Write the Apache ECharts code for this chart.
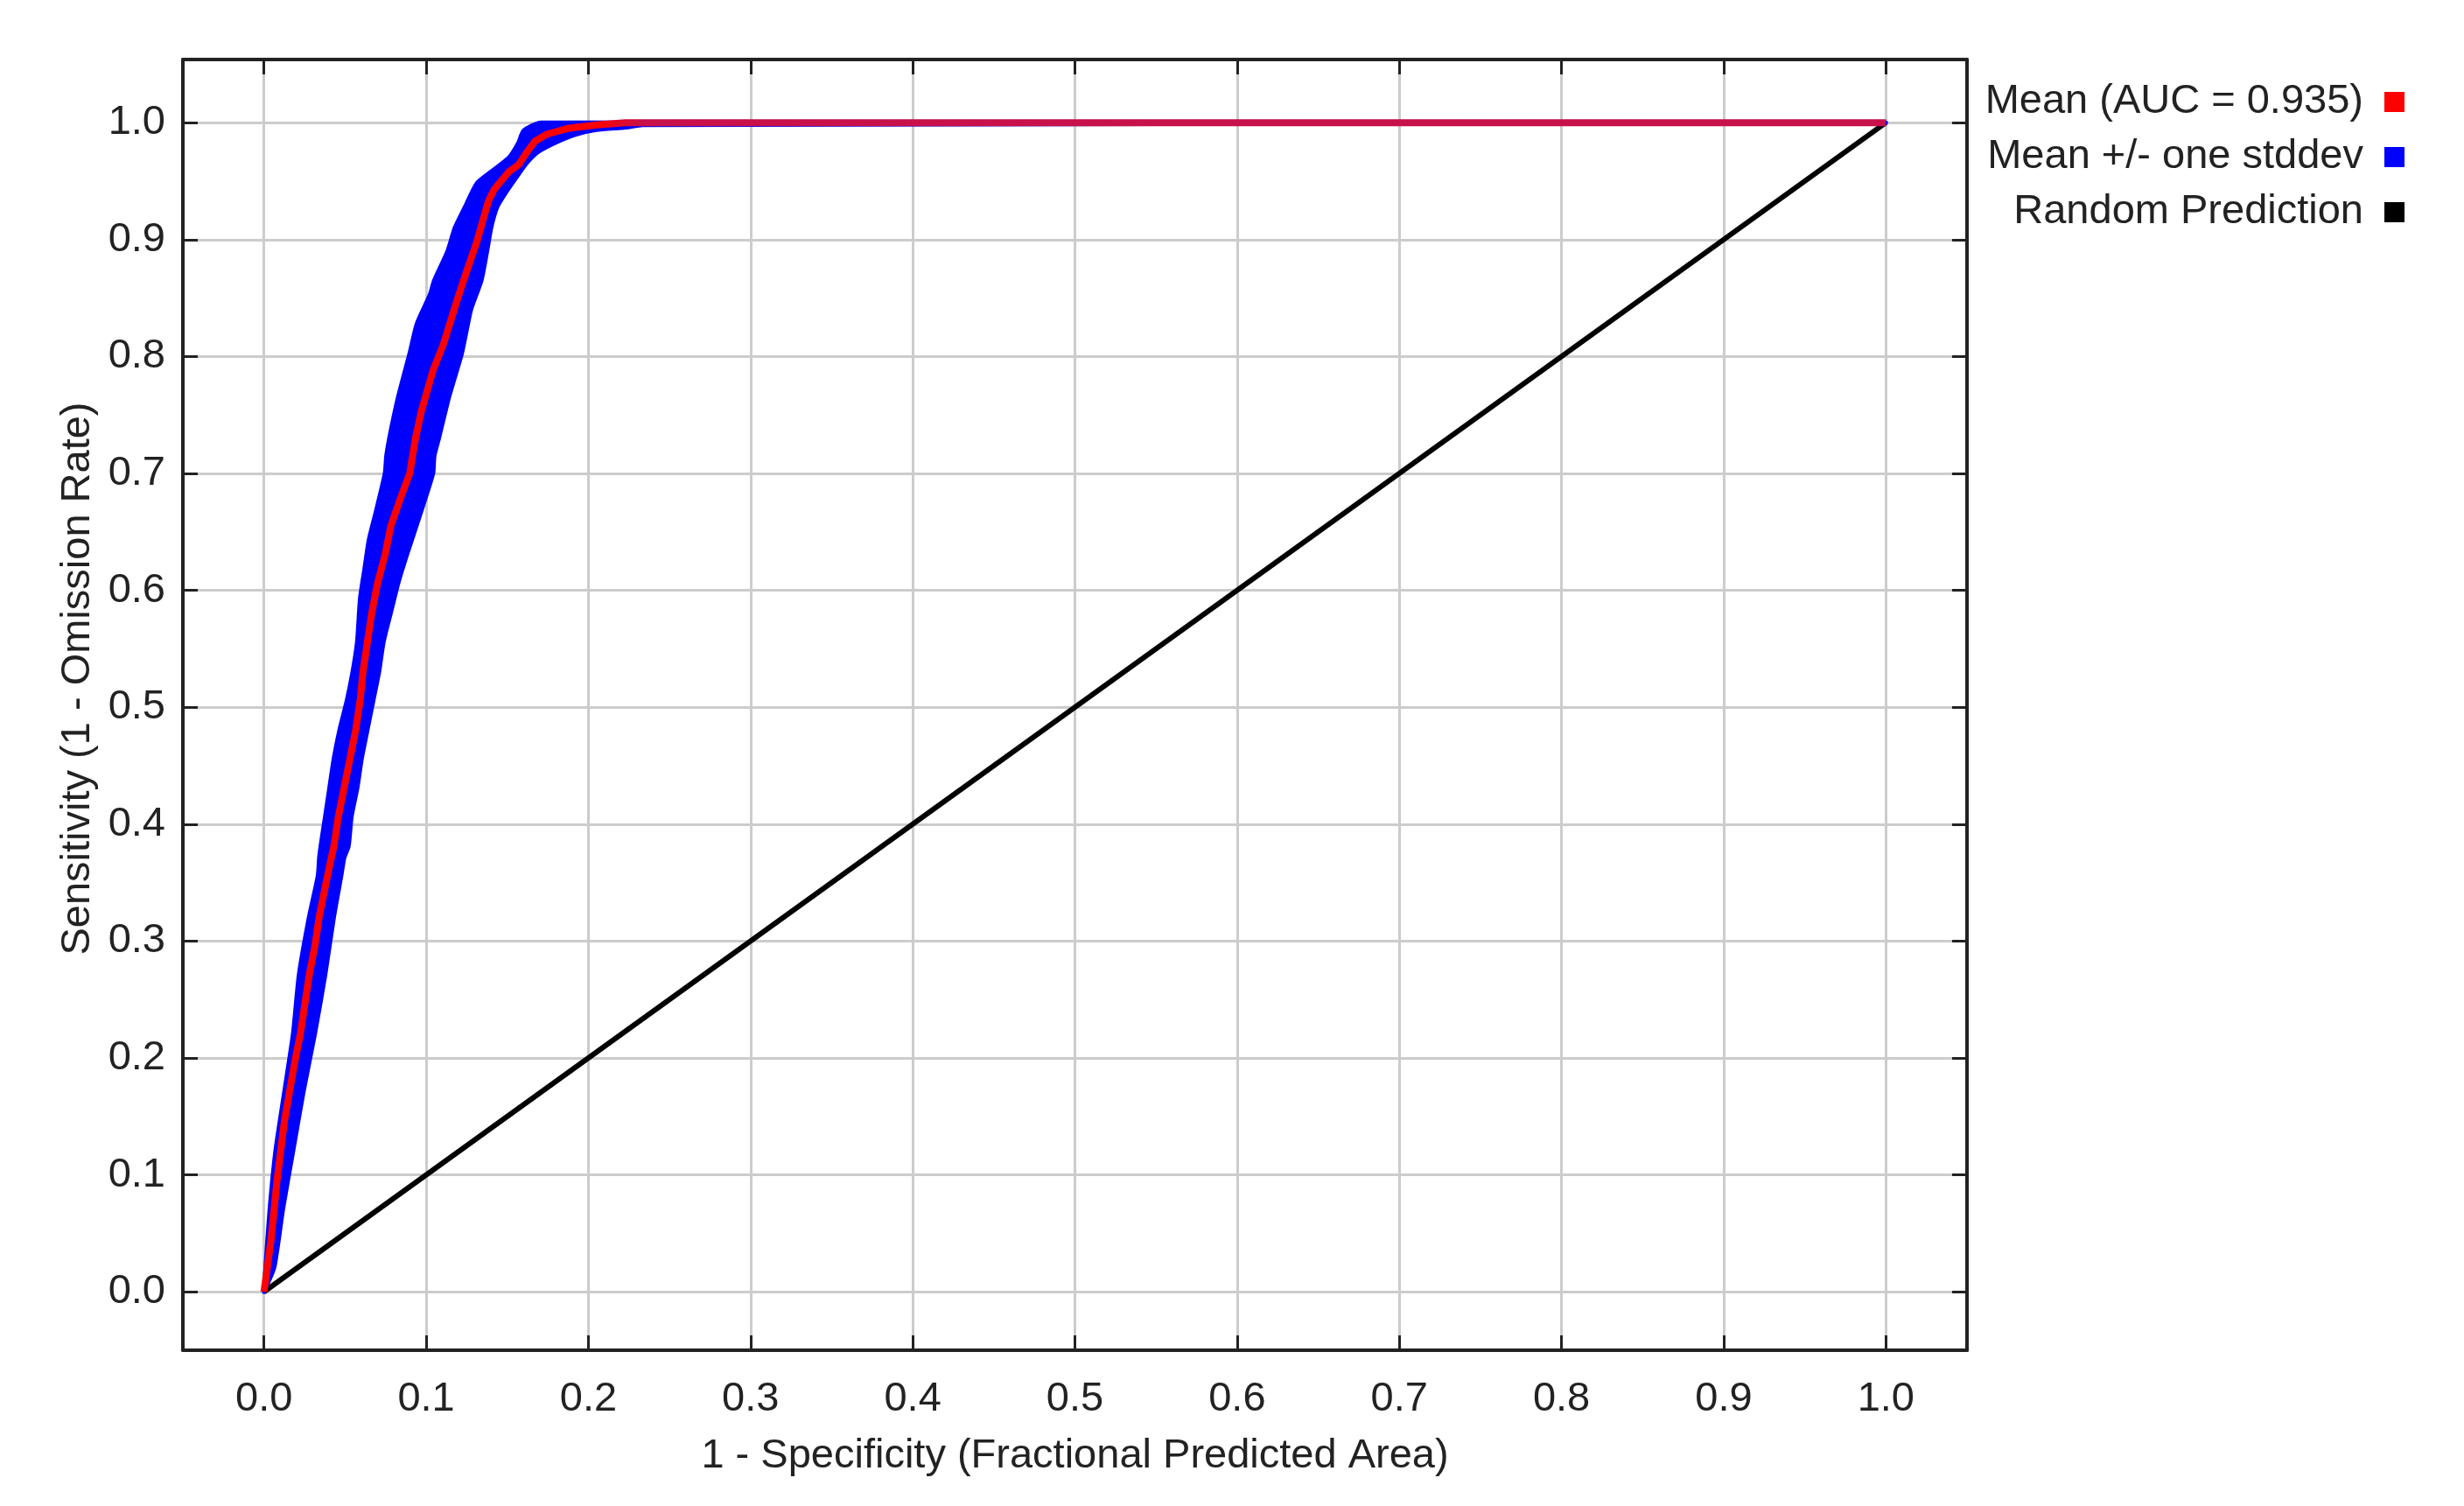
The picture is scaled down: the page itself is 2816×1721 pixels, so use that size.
<!DOCTYPE html>
<html>
<head>
<meta charset="utf-8">
<title>ROC curve</title>
<script src="https://cdn.jsdelivr.net/npm/echarts@6/dist/echarts.min.js"></script>
<style>
  html, body { margin: 0; padding: 0; background: #fff; }
  #chart { width: 2816px; height: 1721px; }
</style>
</head>
<body>
<div id="chart"></div>
<script>
// tick positions shared by both axes
const tickValues = [0, 0.1, 0.2, 0.3, 0.4, 0.5, 0.6, 0.7, 0.8, 0.9, 1.0];

// mean ROC curve (1 - specificity, sensitivity)
const meanFpr = [0, 0.0045, 0.0081, 0.0126, 0.0189, 0.0225, 0.0252, 0.0279, 0.0314, 0.0341, 0.0377, 0.041, 0.0431, 0.0458, 0.0494, 0.053, 0.0566, 0.0593, 0.0611, 0.0638, 0.0665, 0.07, 0.0746, 0.0782, 0.0845, 0.0899, 0.0916, 0.0934, 0.097, 0.1042, 0.1105, 0.115, 0.1195, 0.125, 0.1312, 0.1357, 0.1384, 0.142, 0.151, 0.157, 0.1617, 0.167, 0.1743, 0.187, 0.205, 0.223, 1.0];
const meanTpr = [0, 0.046, 0.096, 0.146, 0.196, 0.221, 0.246, 0.271, 0.296, 0.321, 0.346, 0.368, 0.381, 0.406, 0.431, 0.456, 0.481, 0.506, 0.531, 0.556, 0.581, 0.606, 0.63, 0.655, 0.68, 0.7, 0.715, 0.73, 0.753, 0.788, 0.81, 0.83, 0.85, 0.873, 0.898, 0.92, 0.933, 0.943, 0.958, 0.964, 0.974, 0.984, 0.99, 0.995, 0.998, 1.0, 1.0];

// mean + one stddev (left edge of the band)
const upperFpr = [0, 0.001, 0.0036, 0.0072, 0.0126, 0.018, 0.0216, 0.0279, 0.0333, 0.0341, 0.035, 0.0377, 0.0404, 0.0431, 0.0467, 0.0512, 0.0548, 0.0575, 0.0593, 0.062, 0.0647, 0.0692, 0.0746, 0.0755, 0.0773, 0.0827, 0.0899, 0.0943, 0.1024, 0.105, 0.1132, 0.1177, 0.124, 0.1312, 0.14, 0.151, 0.157, 0.16, 0.1707, 1.0];
const upperTpr = [0, 0.021, 0.071, 0.121, 0.171, 0.221, 0.271, 0.321, 0.356, 0.371, 0.381, 0.406, 0.431, 0.456, 0.481, 0.506, 0.531, 0.556, 0.593, 0.618, 0.643, 0.668, 0.7, 0.715, 0.73, 0.765, 0.803, 0.828, 0.853, 0.865, 0.89, 0.91, 0.928, 0.948, 0.958, 0.97, 0.983, 0.993, 1.0, 1.0];

// mean - one stddev (right edge of the band)
const lowerFpr = [0, 0.0063, 0.0117, 0.018, 0.0243, 0.0314, 0.0377, 0.0431, 0.0476, 0.0494, 0.0521, 0.0539, 0.0575, 0.0602, 0.0638, 0.0674, 0.071, 0.0737, 0.0782, 0.0827, 0.088, 0.097, 0.1042, 0.105, 0.1078, 0.114, 0.122, 0.1276, 0.134, 0.1375, 0.14, 0.1438, 0.149, 0.1555, 0.1617, 0.169, 0.1797, 0.1923, 0.205, 0.223, 0.2335, 1.0];
const lowerTpr = [0, 0.021, 0.071, 0.121, 0.171, 0.221, 0.271, 0.321, 0.356, 0.371, 0.381, 0.406, 0.431, 0.456, 0.481, 0.506, 0.531, 0.556, 0.581, 0.606, 0.63, 0.668, 0.7, 0.715, 0.73, 0.765, 0.803, 0.84, 0.865, 0.89, 0.91, 0.928, 0.94, 0.953, 0.965, 0.975, 0.983, 0.99, 0.994, 0.996, 0.998, 1.0];

// random prediction diagonal
const randomFpr = [0, 1];
const randomTpr = [0, 1];

const FONT = "'Liberation Sans', Arial, sans-serif";
const INK = '#222222';

const chart = echarts.init(document.getElementById('chart'));

const tickStyle = {
  show: true,
  inside: true,
  length: 17,
  lineStyle: { color: INK, width: 3 },
  customValues: tickValues,
};

function xAxis(position, main) {
  return {
    type: 'value',
    position: position,
    min: -0.05,
    max: 1.05,
    name: main ? '1 - Specificity (Fractional Predicted Area)' : '',
    nameLocation: 'middle',
    nameGap: 98,
    nameTextStyle: { fontFamily: FONT, fontSize: 47, color: INK },
    axisLine: { show: true, onZero: false, lineStyle: { color: INK, width: 4 } },
    axisTick: tickStyle,
    axisLabel: {
      show: main,
      margin: 33,
      fontFamily: FONT,
      fontSize: 47,
      color: INK,
      customValues: tickValues,
      formatter: (v) => v.toFixed(1),
    },
    splitLine: { show: main, lineStyle: { color: '#cccccc', width: 3 } },
  };
}

function yAxis(position, main) {
  return {
    type: 'value',
    position: position,
    min: -0.05,
    max: 1.054,
    name: main ? 'Sensitivity (1 - Omission Rate)' : '',
    nameLocation: 'middle',
    nameGap: 86,
    nameTextStyle: { fontFamily: FONT, fontSize: 47, color: INK, padding: [0, 0, 0, 60] },
    axisLine: { show: true, onZero: false, lineStyle: { color: INK, width: 4 } },
    axisTick: tickStyle,
    axisLabel: {
      show: main,
      margin: 20,
      fontFamily: FONT,
      fontSize: 47,
      color: INK,
      customValues: tickValues,
      formatter: (v) => v.toFixed(1),
    },
    splitLine: { show: main, lineStyle: { color: '#cccccc', width: 3 } },
  };
}

const option = {
  backgroundColor: '#ffffff',
  animation: false,
  grid: { left: 209, right: 568, top: 68, bottom: 178 },
  legend: {
    orient: 'vertical',
    right: 63,
    top: 88,
    align: 'right',
    itemWidth: 23,
    itemHeight: 23,
    itemGap: 16,
    icon: 'rect',
    itemStyle: { borderWidth: 0 },
    textStyle: { fontFamily: FONT, fontSize: 47, color: INK, padding: [0, 19, 0, 0] },
    data: ['Mean (AUC = 0.935)', 'Mean +/- one stddev', 'Random Prediction'],
  },
  xAxis: [xAxis('bottom', true), xAxis('top', false)],
  yAxis: [yAxis('left', true), yAxis('right', false)],
  series: [
    {
      name: 'Random Prediction',
      type: 'line',
      showSymbol: false,
      itemStyle: { color: '#000000' },
      lineStyle: { color: '#000000', width: 6 },
      data: randomFpr.map((x, i) => [x, randomTpr[i]]),
      z: 2,
    },
    {
      name: 'Mean +/- one stddev',
      type: 'custom',
      itemStyle: { color: '#0000ff' },
      data: [[0, 0]],
      renderItem: (params, api) => {
        const pts = [];
        upperFpr.forEach((x, i) => pts.push(api.coord([x, upperTpr[i]])));
        for (let i = lowerFpr.length - 1; i >= 0; i--) {
          pts.push(api.coord([lowerFpr[i], lowerTpr[i]]));
        }
        return {
          type: 'polygon',
          shape: { points: pts, smooth: 0.2 },
          style: { fill: '#0000ff', stroke: '#0000ff', lineWidth: 5, lineJoin: 'round' },
        };
      },
      z: 3,
    },
    {
      name: 'Mean (AUC = 0.935)',
      type: 'line',
      showSymbol: false,
      itemStyle: { color: '#ff0000' },
      lineStyle: {
        width: 8,
        color: new echarts.graphic.LinearGradient(0, 0, 1, 0, [
          { offset: 0, color: '#ff0000' },
          { offset: 0.205, color: '#ff0000' },
          { offset: 0.235, color: '#c8104a' },
          { offset: 1, color: '#c8104a' },
        ]),
      },
      data: meanFpr.map((x, i) => [x, meanTpr[i]]),
      z: 4,
    },
  ],
};

chart.setOption(option);
</script>
</body>
</html>
